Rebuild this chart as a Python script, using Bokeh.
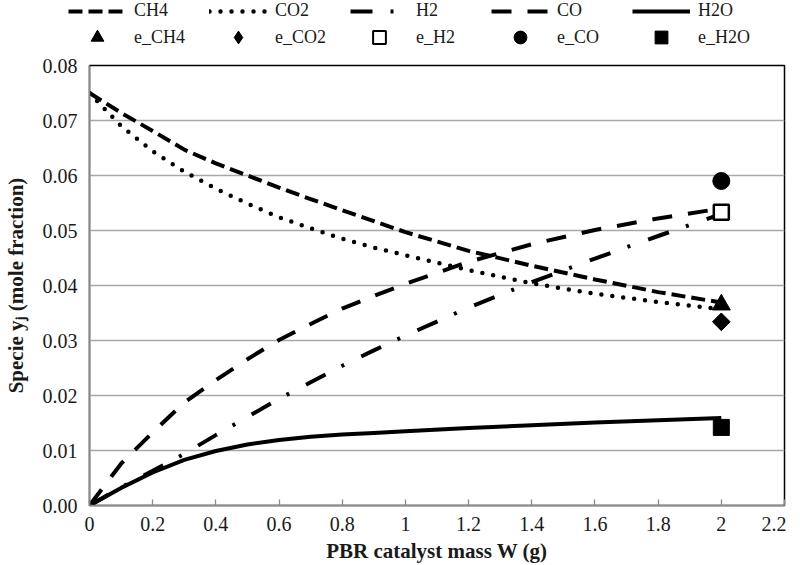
import math
from bokeh.plotting import figure
from bokeh.layouts import column
from bokeh.models import Legend, LegendItem, FixedTicker, Range1d, NumeralTickFormatter, CustomJSTickFormatter
from bokeh.embed import file_html
from bokeh.resources import INLINE

# catalyst mass W (g)
w = [0, 0.1, 0.2, 0.3, 0.4, 0.5, 0.6, 0.7, 0.8, 0.9, 1.0, 1.2, 1.4, 1.6, 1.8, 2.0]
y_ch4 = [0.075, 0.0714, 0.0681, 0.0647, 0.0622, 0.0600, 0.0578, 0.0557, 0.0537, 0.0517,
         0.0497, 0.0463, 0.0436, 0.0411, 0.0388, 0.0369]
y_co2 = [0.075, 0.0690, 0.0644, 0.0607, 0.0576, 0.0549, 0.0524, 0.0504, 0.0485, 0.0469,
         0.0455, 0.0428, 0.0404, 0.0385, 0.0370, 0.0357]
y_h2 = [0.0, 0.0033, 0.0063, 0.0094, 0.0128, 0.0161, 0.0194, 0.0224, 0.0254, 0.0282,
        0.0309, 0.0360, 0.0406, 0.0449, 0.0490, 0.0530]
y_co = [0.0, 0.0076, 0.0133, 0.0187, 0.0228, 0.0266, 0.0301, 0.0330, 0.0358, 0.0381,
        0.0403, 0.0443, 0.0475, 0.0501, 0.0522, 0.0540]
y_h2o = [0.0, 0.0032, 0.0060, 0.0083, 0.0099, 0.0111, 0.0119, 0.0125, 0.0129, 0.0132,
         0.0135, 0.0141, 0.0146, 0.0151, 0.0155, 0.0159]

# equilibrium values at W = 2 g
eq_w = [2.0]
e_ch4 = [0.0365]
e_co2 = [0.0334]
e_h2 = [0.0533]
e_co = [0.0590]
e_h2o = [0.0142]

x_ticks = [0, 0.2, 0.4, 0.6, 0.8, 1.0, 1.2, 1.4, 1.6, 1.8, 2.0, 2.2]
y_ticks = [0.0, 0.01, 0.02, 0.03, 0.04, 0.05, 0.06, 0.07, 0.08]

line_names = ["CH4", "CO2", "H2", "CO", "H2O"]
eq_names = ["e_CH4", "e_CO2", "e_H2", "e_CO", "e_H2O"]

FONT = "Liberation Serif"

line_styles = [
    dict(line_color="black", line_width=4, line_dash="14 6"),
    dict(line_color="black", line_width=4.5, line_dash="0 11", line_cap="round"),
    dict(line_color="black", line_width=4, line_dash="22 18 3 19"),
    dict(line_color="black", line_width=4, line_dash="20 16"),
    dict(line_color="black", line_width=4),
]
marker_styles = [
    dict(marker="triangle", size=18, fill_color="black", line_color="black"),
    dict(marker="square", size=12.5, angle=math.pi / 4, fill_color="black", line_color="black"),
    dict(marker="square", size=15, fill_color="white", line_color="black", line_width=2.5),
    dict(marker="circle", size=17, fill_color="black", line_color="black"),
    dict(marker="square", size=16, fill_color="black", line_color="black"),
]
legend_marker_styles = [
    dict(marker="triangle", fill_color="black", line_color="black"),
    dict(marker="diamond", fill_color="black", line_color="black"),
    dict(marker="square", fill_color="white", line_color="black", line_width=2),
    dict(marker="circle", fill_color="black", line_color="black"),
    dict(marker="square", fill_color="black", line_color="black"),
]
line_data = [y_ch4, y_co2, y_h2, y_co, y_h2o]
eq_data = [e_ch4, e_co2, e_h2, e_co, e_h2o]

# ---------------- main chart ----------------
p = figure(width=786, height=513, x_range=Range1d(0, 2.2), y_range=Range1d(0, 0.08),
           output_backend="svg", toolbar_location=None,
           min_border_left=86, min_border_right=2, min_border_top=12, min_border_bottom=61)
p.background_fill_color = "white"
p.border_fill_color = "white"
p.outline_line_color = "black"
p.outline_line_width = 1.5

p.xgrid.visible = False
p.ygrid.grid_line_color = "#a8a8a8"
p.ygrid.grid_line_width = 1.3
p.ygrid.ticker = FixedTicker(ticks=y_ticks)

p.xaxis.ticker = FixedTicker(ticks=x_ticks)
p.yaxis.ticker = FixedTicker(ticks=y_ticks)
p.xaxis.formatter = CustomJSTickFormatter(code="return (Math.round(tick*10)/10).toString();")
p.yaxis.formatter = NumeralTickFormatter(format="0.00")

for ax in (p.xaxis[0], p.yaxis[0]):
    ax.axis_line_color = "#8a8a8a"
    ax.axis_line_width = 1.5
    ax.major_label_text_font = FONT
    ax.major_label_text_font_size = "20px"
    ax.major_label_text_color = "#1a1a1a"
    ax.axis_label_text_font = FONT
    ax.axis_label_text_font_style = "bold"
    ax.axis_label_text_font_size = "21px"
    ax.axis_label_text_color = "#1a1a1a"
    ax.minor_tick_line_color = None

p.xaxis.major_tick_in = 6
p.xaxis.major_tick_out = 0
p.xaxis.major_tick_line_color = "#8a8a8a"
p.xaxis.major_tick_line_width = 1.3
p.xaxis.major_label_standoff = 11
p.xaxis.axis_label = "PBR catalyst mass W (g)"
p.xaxis.axis_label_standoff = 5

p.yaxis.major_tick_in = 0
p.yaxis.major_tick_out = 0
p.yaxis.major_label_standoff = 12
p.yaxis.axis_label = "Specie y\u2c7c (mole fraction)"
p.yaxis.axis_label_standoff = 12

for ys, st in zip(line_data, line_styles):
    p.line(w, ys, **st)
for ys, st in zip(eq_data, marker_styles):
    p.scatter(eq_w, ys, **st)

# ---------------- legend strip ----------------
# the same series drawn again in a strip whose ranges keep them out of view,
# so that the legends can show their glyphs above the chart
lg = figure(width=786, height=53, x_range=Range1d(10, 11), y_range=Range1d(10, 11),
            output_backend="svg", toolbar_location=None,
            x_axis_type=None, y_axis_type=None,
            min_border_left=65, min_border_right=0, min_border_top=0, min_border_bottom=0)
lg.grid.visible = False
lg.outline_line_color = None
lg.background_fill_color = "white"
lg.border_fill_color = "white"
lg.margin = (0, 0, 0, -21)

line_rs = [lg.line(w, ys, **st) for ys, st in zip(line_data, line_styles)]
marker_rs = [lg.scatter(eq_w, ys, **st) for ys, st in zip(eq_data, legend_marker_styles)]

common = dict(orientation="horizontal", glyph_width=58, label_standoff=8, label_width=60,
              spacing=15, padding=0, margin=0, border_line_color=None,
              background_fill_alpha=0, label_text_font=FONT, label_text_font_size="18px",
              label_text_color="#1a1a1a")

leg1 = Legend(items=[LegendItem(label=n, renderers=[r]) for n, r in zip(line_names, line_rs)],
              location="top_left", glyph_height=20, label_height=20, **common)
leg2 = Legend(items=[LegendItem(label=n, renderers=[r]) for n, r in zip(eq_names, marker_rs)],
              location="bottom_left", glyph_height=32, label_height=32, **common)
lg.add_layout(leg1)
lg.add_layout(leg2)

layout = column(lg, p, spacing=0)
open("out.html", "w").write(file_html(layout, INLINE))
